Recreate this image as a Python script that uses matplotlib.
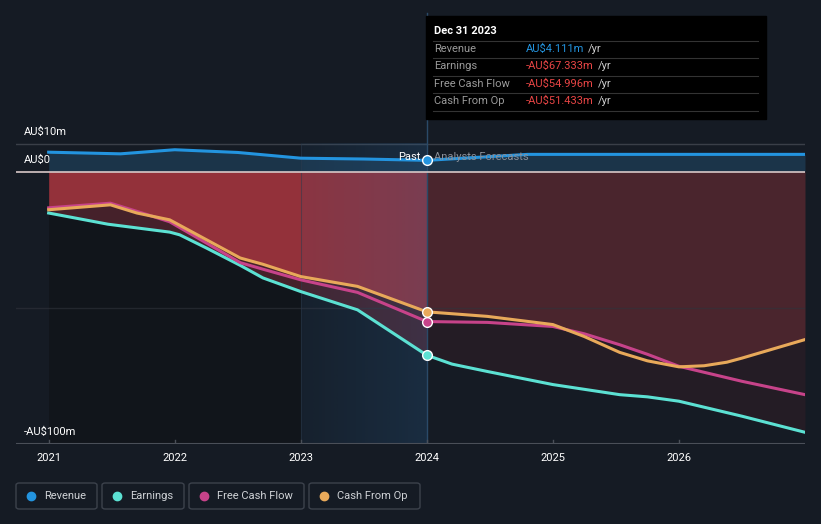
import numpy as np
import matplotlib
matplotlib.use("Agg")
from matplotlib import pyplot as plt
from matplotlib.patches import FancyBboxPatch, Rectangle

plt.rcParams['font.family'] = ['Roboto', 'DejaVu Sans']

# ---- data (AU$ m, time in decimal years) ----
rev_t = [2021.0, 2021.57, 2022.0, 2022.5, 2023.0, 2023.5, 2024.0, 2024.8, 2025.5, 2026.0, 2027.0]
rev_v = [7.1, 6.5, 8.0, 7.0, 4.9, 4.6, 4.111, 6.3, 6.3, 6.3, 6.3]

earn_t = [2021.0, 2021.47, 2021.96, 2022.04, 2022.25, 2022.52, 2022.7, 2023.0, 2023.45, 2024.0,
          2024.2, 2024.48, 2025.0, 2025.53, 2025.75, 2026.0, 2026.5, 2027.0]
earn_v = [-15.2, -19.3, -22.2, -23.2, -28.0, -34.4, -39.0, -44.0, -50.7, -67.333,
          -70.6, -73.3, -78.1, -81.8, -82.6, -84.2, -89.7, -95.6]

fcf_t = [2021.0, 2021.49, 2021.7, 2021.96, 2022.52, 2022.7, 2023.0, 2023.45, 2024.0,
         2024.48, 2025.0, 2025.25, 2025.53, 2025.75, 2026.0, 2026.5, 2027.0]
fcf_v = [-13.3, -11.6, -14.6, -18.4, -33.4, -35.8, -39.7, -44.3, -54.996,
         -55.3, -56.8, -59.5, -63.5, -67.0, -71.4, -76.9, -81.8]

cfo_t = [2021.0, 2021.49, 2021.7, 2021.96, 2022.52, 2022.7, 2023.0, 2023.45, 2024.0,
         2024.48, 2025.0, 2025.25, 2025.53, 2025.75, 2026.0, 2026.2, 2026.38, 2026.5, 2027.0]
cfo_v = [-14.0, -12.2, -15.2, -17.7, -31.7, -34.0, -38.5, -42.1, -51.433,
         -53.1, -56.1, -60.5, -66.3, -69.4, -71.6, -71.2, -69.9, -68.4, -61.6]

years = [2021, 2022, 2023, 2024, 2025, 2026]

BG = '#151b24'
C_REV = '#2394df'
C_EARN = '#5ce1d3'
C_FCF = '#c7438a'
C_CFO = '#e8a95a'

fig = plt.figure(figsize=(8.21, 5.24), dpi=100, facecolor=BG)
W, H = 821, 524
ax = fig.add_axes([16 / W, (H - 444.3) / H, 789 / W, 444.3 / H])
ax.set_facecolor(BG)
for s in ax.spines.values():
    s.set_visible(False)
ax.set_yticks([])
ax.set_xticks([])

# common grid of times for fills
grid = np.array(sorted(set(rev_t) | set(earn_t) | set(fcf_t) | set(cfo_t)))
e_g = np.interp(grid, earn_t, earn_v)
f_g = np.interp(grid, fcf_t, fcf_v)
c_g = np.interp(grid, cfo_t, cfo_v)
top_g = np.maximum(f_g, c_g)
r_g = np.interp(grid, rev_t, rev_v)
past = grid <= 2024.0
fut = grid >= 2024.0

# darker past background
ax.fill_between([2021, 2023], -100, 0, color='#11151b', lw=0, zorder=0)

# revenue area
ax.fill_between(grid, 0, r_g, color='#1b3449', lw=0, zorder=1)

# past fills
ax.fill_between(grid[past], 0, top_g[past], color='#93313a', lw=0, zorder=1)
ax.fill_between(grid[past], top_g[past], e_g[past], color='#45212a', lw=0, zorder=1)
# forecast fills
ax.fill_between(grid[fut], 0, top_g[fut], color='#4a252d', lw=0, zorder=1)
ax.fill_between(grid[fut], top_g[fut], e_g[fut], color='#241c25', lw=0, zorder=1)

# highlighted last year band
grad = np.zeros((2, 64, 4))
grad[..., 0] = 0.16
grad[..., 1] = 0.40
grad[..., 2] = 0.62
grad[..., 3] = np.linspace(0.08, 0.24, 64)[None, :]
ax.imshow(grad, extent=[2023, 2024, -100, 10], aspect='auto', zorder=2, interpolation='bilinear')
ax.set_xlim(2020.741, 2027.0)
ax.set_ylim(-100, 62.9)
ax.plot([2023, 2023], [-100, 10], color='#2a3a4c', lw=0.8, alpha=0.5, zorder=2)
ax.plot([2024, 2024], [-100, 58], color='#2a4a68', lw=1, zorder=2)

# grid lines
ax.axhline(10, color='#3a3f48', lw=1, zorder=1)
ax.axhline(-50, color='#30343c', lw=1, zorder=1.5, alpha=0.6)
ax.axhline(0, color='#d8c8c8', lw=1.2, zorder=3)
ax.axhline(-100, color='#4a4f58', lw=1.5, zorder=3)
for y in years:
    ax.plot([y, y], [-100, -98.3], color='#4a4f58', lw=1, zorder=3)

# lines
ax.plot(rev_t, rev_v, color=C_REV, lw=2.2, zorder=4)
ax.plot(earn_t, earn_v, color=C_EARN, lw=2.2, zorder=4)
ax.plot(fcf_t, fcf_v, color=C_FCF, lw=2.2, zorder=4)
ax.plot(cfo_t, cfo_v, color=C_CFO, lw=2.2, zorder=4)

# markers at the last reported point
for t, v, c in [(rev_t, rev_v, C_REV), (earn_t, earn_v, C_EARN), (fcf_t, fcf_v, C_FCF), (cfo_t, cfo_v, C_CFO)]:
    i = t.index(2024.0)
    ax.plot(t[i], v[i], 'o', color=c, ms=7, mec='white', mew=1, zorder=5)

# y labels
ax.text(2020.805, 10 + 4.4, 'AU$10m', color='white', fontsize=8, va='center', ha='left')
ax.text(2020.805, 0 + 4.4, 'AU$0', color='white', fontsize=8, va='center', ha='left')
ax.text(2020.805, -100 + 4.4, '-AU$100m', color='white', fontsize=8, va='center', ha='left')

# Past / Forecast labels
ax.text(2023.95, 5.2, 'Past', color='white', fontsize=8, ha='right', va='center', zorder=6)
ax.text(2024.06, 5.2, 'Analysts Forecasts', color='#8a8f99', fontsize=8, ha='left', va='center', zorder=6)

# x tick labels
for y in years:
    ax.text(y, -105, str(y), color='white', fontsize=8, ha='center', va='center', clip_on=False)

# tooltip
def fx(px):
    return px / W

def fy(py):
    return 1 - py / H

fig.patches.append(Rectangle((fx(426), fy(119.3)), fx(766) - fx(426), fy(16) - fy(119.3),
                             transform=fig.transFigure, color='black', zorder=10))
fig.text(fx(434), fy(31), 'Dec 31 2023', color='white', fontsize=8, fontweight='bold', va='center', zorder=11)
rows = [('Revenue', 'AU$4.111m', C_REV), ('Earnings', '-AU$67.333m', '#e84545'),
        ('Free Cash Flow', '-AU$54.996m', '#e84545'), ('Cash From Op', '-AU$51.433m', '#e84545')]
row_y = [49, 66, 84, 101]
for ly in [41.3, 58.3, 76.3, 93.3, 111]:
    fig.lines.append(plt.Line2D([fx(433), fx(758)], [fy(ly), fy(ly)], transform=fig.transFigure,
                                color='#333333', lw=0.8, zorder=11))
for (lab, val, col), yy in zip(rows, row_y):
    fig.text(fx(434), fy(yy), lab, color='#9a9a9a', fontsize=8, va='center', zorder=11)
    t = fig.text(fx(526), fy(yy), val, color=col, fontsize=8, va='center', zorder=11)
    fig.canvas.draw()
    bb = t.get_window_extent()
    fig.text(bb.x1 / W + fx(4), fy(yy), '/yr', color='#cccccc', fontsize=8, va='center', zorder=11)

# legend
items = [('Revenue', C_REV, 16, 97), ('Earnings', C_EARN, 102, 184),
         ('Free Cash Flow', C_FCF, 189, 304), ('Cash From Op', C_CFO, 309, 420)]
for lab, col, x0, x1 in items:
    fig.patches.append(FancyBboxPatch((fx(x0), fy(509)), fx(x1) - fx(x0), fy(483) - fy(509),
                                      boxstyle='round,pad=0,rounding_size=0.004',
                                      transform=fig.transFigure, facecolor='none',
                                      edgecolor='#3c424c', lw=1))
    fig.lines.append(plt.Line2D([fx(x0 + 15)], [fy(496)], marker='o', ms=6, color=col,
                                transform=fig.transFigure))
    fig.text(fx(x0 + 28), fy(496), lab, color='#cfd2d6', fontsize=8, va='center')

fig.savefig('out.png', dpi=100, facecolor=BG)
